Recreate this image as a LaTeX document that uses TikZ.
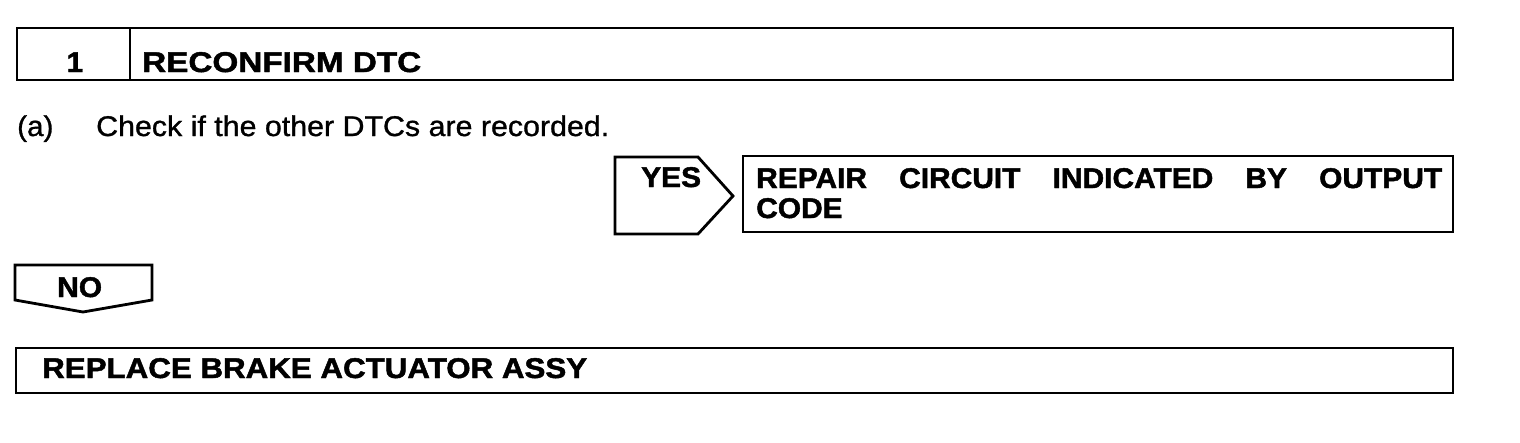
\documentclass[tikz,border=0pt]{standalone}
\usepackage{graphicx}
\usepackage{fontspec}
\setmainfont{Liberation Sans}
\newfontfamily\hbold[FakeStretch=1.05,FakeBold=1.6]{Liberation Sans Bold}
\newfontfamily\hreg[FakeStretch=1.04,FakeBold=1.0]{Liberation Sans}
\newcommand\fitw[2]{\resizebox{#1}{\height}{#2}}
\begin{document}
\begin{tikzpicture}[x=1pt,y=-1pt,
  frame/.style={draw,line width=2.8pt,line join=miter},
  lbl/.style={inner sep=0pt,anchor=base west,font=\hbold\fontsize{28.5}{32}\selectfont},
  txt/.style={inner sep=0pt,anchor=base west,font=\hreg\fontsize{28.5}{32}\selectfont}]
\fill[white] (0,0) rectangle (1520,442);
\useasboundingbox (0,0) rectangle (1520,442);

% step header
\draw[frame] (17,28) rectangle (1453,80);
\draw[frame] (130,28) -- (130,80);
\node[lbl,anchor=base] (num) at (75,72) {1};
\node[lbl] (title) at (142,72) {\fitw{279pt}{RECONFIRM DTC}};

% instruction
\node[txt] (a) at (17,136) {(a)};
\node[txt] (check) at (96,136) {\fitw{513pt}{Check if the other DTCs are recorded.}};

% YES branch
\draw[frame] (615,157) -- (698,157) -- (733,196) -- (698,234) -- (615,234) -- cycle;
\node[lbl] (yes) at (641,187) {YES};
\draw[frame] (743,156) rectangle (1453,232);
\node[lbl] (repair1) at (756,188) {\makebox[686pt][s]{REPAIR\hfill CIRCUIT\hfill INDICATED\hfill BY\hfill OUTPUT}};
\node[lbl] (repair2) at (756,218) {CODE};

% NO branch
\draw[frame] (15,265) -- (152,265) -- (152,300) -- (83,312) -- (15,300) -- cycle;
\node[lbl] (no) at (57,297) {NO};

% final action
\draw[frame] (16,348) rectangle (1453,393);
\node[lbl] (replace) at (42,378) {\fitw{545pt}{REPLACE BRAKE ACTUATOR ASSY}};
\end{tikzpicture}
\end{document}
